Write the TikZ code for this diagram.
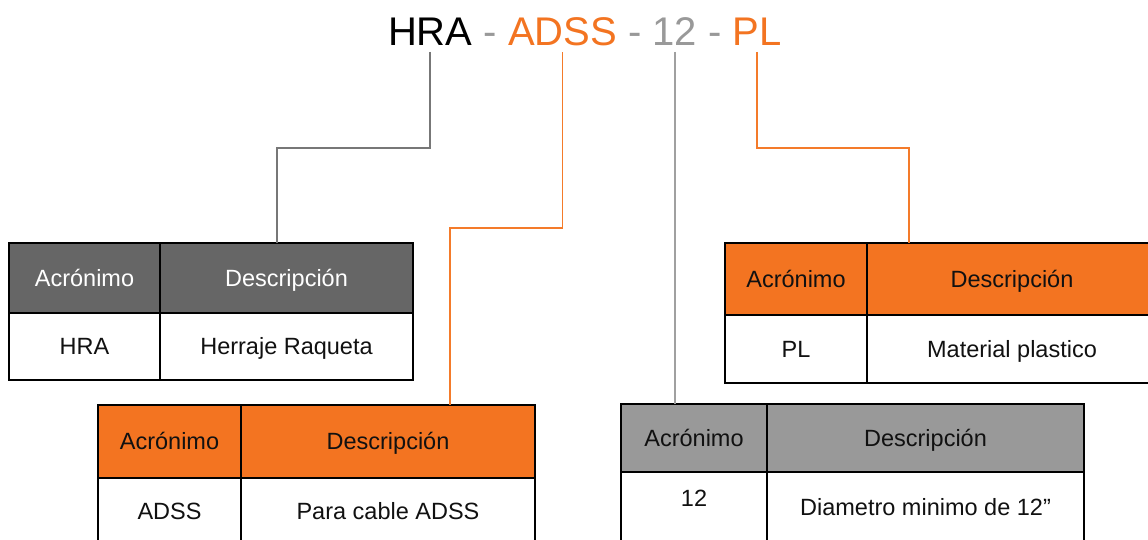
\documentclass[tikz,border=0pt]{standalone}
\usepackage{fontspec}
\setmainfont{Liberation Sans}
\definecolor{orng}{HTML}{F37421}
\definecolor{dgray}{HTML}{666666}
\definecolor{lgray}{HTML}{999999}
\definecolor{dline}{HTML}{777777}
\definecolor{lline}{HTML}{A0A0A0}
\definecolor{oline}{HTML}{F47B2A}
\definecolor{ink}{HTML}{111111}
\begin{document}
\begin{tikzpicture}[x=1pt,y=-1pt,
  ttl/.style={inner sep=0pt, outer sep=0pt, anchor=base west, font=\fontsize{40}{48}\selectfont},
  dsh/.style={ttl, inner xsep=11.12pt, text=lgray},
  cell/.style={draw=black, line width=1.6pt, inner sep=0pt, outer sep=0pt, anchor=north west,
    text height=16.8pt, text depth=0pt, font=\fontsize{23.5}{28}\selectfont, text=ink},
  hdark/.style={cell, fill=dgray, text=white},
  horng/.style={cell, fill=orng},
  hlight/.style={cell, fill=lgray, text=ink},
  body/.style={cell, fill=white},
  conn/.style={line width=1.6pt}
]
\useasboundingbox (0,0) rectangle (1148,540);
\clip (0,0) rectangle (1148,540);
\fill[white] (0,0) rectangle (1148,540);

% title
\node[ttl] (hra) at (388,46) {HRA};
\node[dsh] (d1) at (hra.base east) {-};
\node[ttl,text=orng] (adss) at (d1.base east) {ADSS};
\node[dsh] (d2) at (adss.base east) {-};
\node[ttl,text=lgray] (n12) at (d2.base east) {12};
\node[dsh] (d3) at (n12.base east) {-};
\node[ttl,text=orng] (pl) at (d3.base east) {PL};

% table 1
\node[hdark, minimum width=151pt, minimum height=70pt] (h1a) at (9,243) {Acrónimo};
\node[hdark, minimum width=253pt, minimum height=70pt] (h1b) at (160,243) {Descripción};
\node[body, minimum width=151pt, minimum height=67pt] (b1a) at (9,313) {HRA};
\node[body, minimum width=253pt, minimum height=67pt] (b1b) at (160,313) {Herraje Raqueta};

% table 2
\node[horng, minimum width=143pt, minimum height=73pt] (h2a) at (98,405) {Acrónimo};
\node[horng, minimum width=294pt, minimum height=73pt] (h2b) at (241,405) {Descripción};
\node[body, minimum width=143pt, minimum height=66pt] (b2a) at (98,478) {ADSS};
\node[body, minimum width=294pt, minimum height=66pt] (b2b) at (241,478) {Para cable ADSS};

% table 3
\node[hlight, minimum width=146pt, minimum height=68pt] (h3a) at (621,404) {Acrónimo};
\node[hlight, minimum width=317pt, minimum height=68pt] (h3b) at (767,404) {Descripción};
\node[body, minimum width=146pt, minimum height=70pt] (b3a) at (621,472) {\raisebox{9pt}{12}};
\node[body, minimum width=317pt, minimum height=70pt] (b3b) at (767,472) {Diametro minimo de 12”};

% table 4
\node[horng, minimum width=142pt, minimum height=72pt] (h4a) at (725,243) {Acrónimo};
\node[horng, minimum width=290pt, minimum height=72pt] (h4b) at (867,243) {Descripción};
\node[body, minimum width=142pt, minimum height=68pt] (b4a) at (725,315) {PL};
\node[body, minimum width=290pt, minimum height=68pt] (b4b) at (867,315) {Material plastico};

% connectors
\draw[conn, dline, shorten <=6pt] (hra.south) |- (277,148) -- (277,243);
\draw[conn, oline, shorten <=6pt] (adss.south) |- (450,228) -- (450,405);
\draw[conn, lline, shorten <=6pt] (n12.south) -- (n12.south |- h3a.north);
\draw[conn, oline, shorten <=6pt] (pl.south) |- (909,148) -- (909,243);
\end{tikzpicture}
\end{document}
